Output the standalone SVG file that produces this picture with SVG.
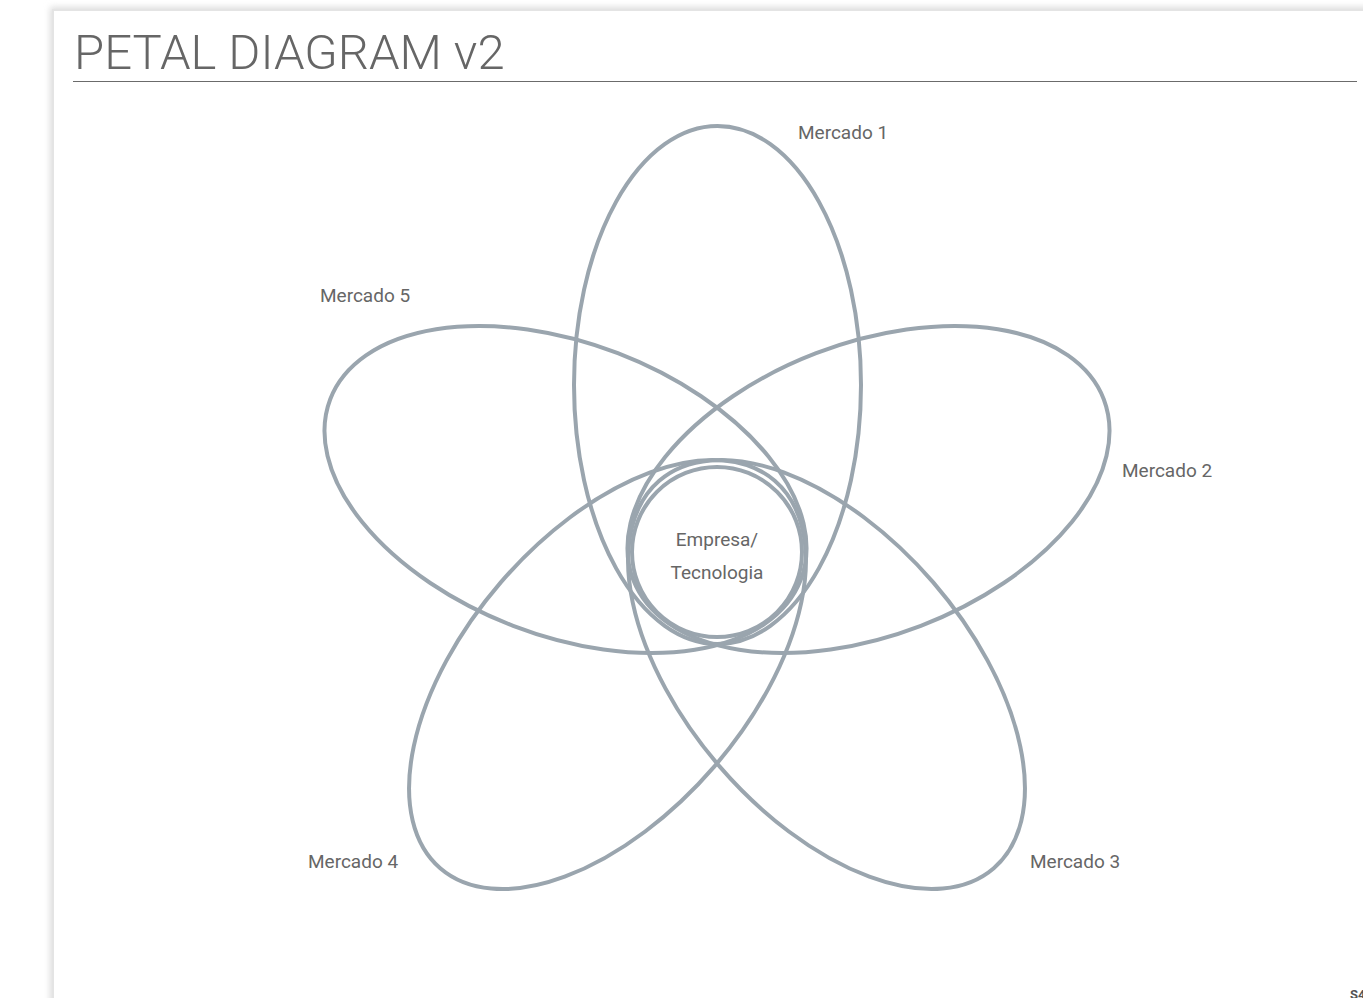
<svg xmlns="http://www.w3.org/2000/svg" width="1363" height="998" viewBox="0 0 1363 998">
  <defs>
    <filter id="shadow" x="-5%" y="-5%" width="110%" height="110%">
      <feGaussianBlur stdDeviation="3"/>
    </filter>
    <style>
      .petal { fill: none; stroke: #9aa5ae; stroke-width: 4; }
      .label { font-family: Roboto, "Liberation Sans", sans-serif; font-size: 19px; fill: #666666; }
      .title { font-family: Roboto, "Liberation Sans", sans-serif; font-weight: 300; font-size: 49px; fill: #666666; }
    </style>
  </defs>
  <rect x="0" y="0" width="1363" height="998" fill="#ffffff"/>
  <g id="card">
    <rect x="50" y="7" width="1400" height="1100" fill="#dddddd" filter="url(#shadow)"/>
    <rect x="53" y="10" width="1400" height="1100" fill="#ffffff" stroke="#e4e4e4" stroke-width="2"/>
  </g>
  <g id="title">
    <text class="title" x="74" y="69">PETAL DIAGRAM v2</text>
    <line x1="73" y1="81.5" x2="1357" y2="81.5" stroke="#6b6b6b" stroke-width="1.2"/>
  </g>
  <g id="connectors"></g>
  <g id="mercado1">
    <ellipse class="petal" cx="717.5" cy="385" rx="143.5" ry="259"/>
    <text class="label" x="798" y="139">Mercado 1</text>
  </g>
  <g id="mercado2">
    <ellipse class="petal" cx="868.5" cy="489.5" rx="252" ry="146" transform="rotate(-21 868.5 489.5)"/>
    <text class="label" x="1122" y="477">Mercado 2</text>
  </g>
  <g id="mercado3">
    <ellipse class="petal" cx="826.5" cy="674.5" rx="256" ry="141" transform="rotate(49.2 826.5 674.5)"/>
    <text class="label" x="1030" y="868">Mercado 3</text>
  </g>
  <g id="mercado4">
    <ellipse class="petal" cx="607.5" cy="674.5" rx="256" ry="141" transform="rotate(-49.2 607.5 674.5)"/>
    <text class="label" x="308" y="868">Mercado 4</text>
  </g>
  <g id="mercado5">
    <ellipse class="petal" cx="565.5" cy="489.5" rx="252" ry="146" transform="rotate(21 565.5 489.5)"/>
    <text class="label" x="320" y="302">Mercado 5</text>
  </g>
  <g id="empresa">
    <circle class="petal" cx="717" cy="552" r="85" stroke-width="4.5"/>
    <text class="label" x="717" y="546" text-anchor="middle">Empresa/</text>
    <text class="label" x="717" y="579" text-anchor="middle">Tecnologia</text>
  </g>
  <g id="footer">
    <text x="1350" y="999" font-family="Roboto, 'Liberation Sans', sans-serif" font-weight="bold" font-size="13" fill="#555555">S4</text>
  </g>
</svg>
